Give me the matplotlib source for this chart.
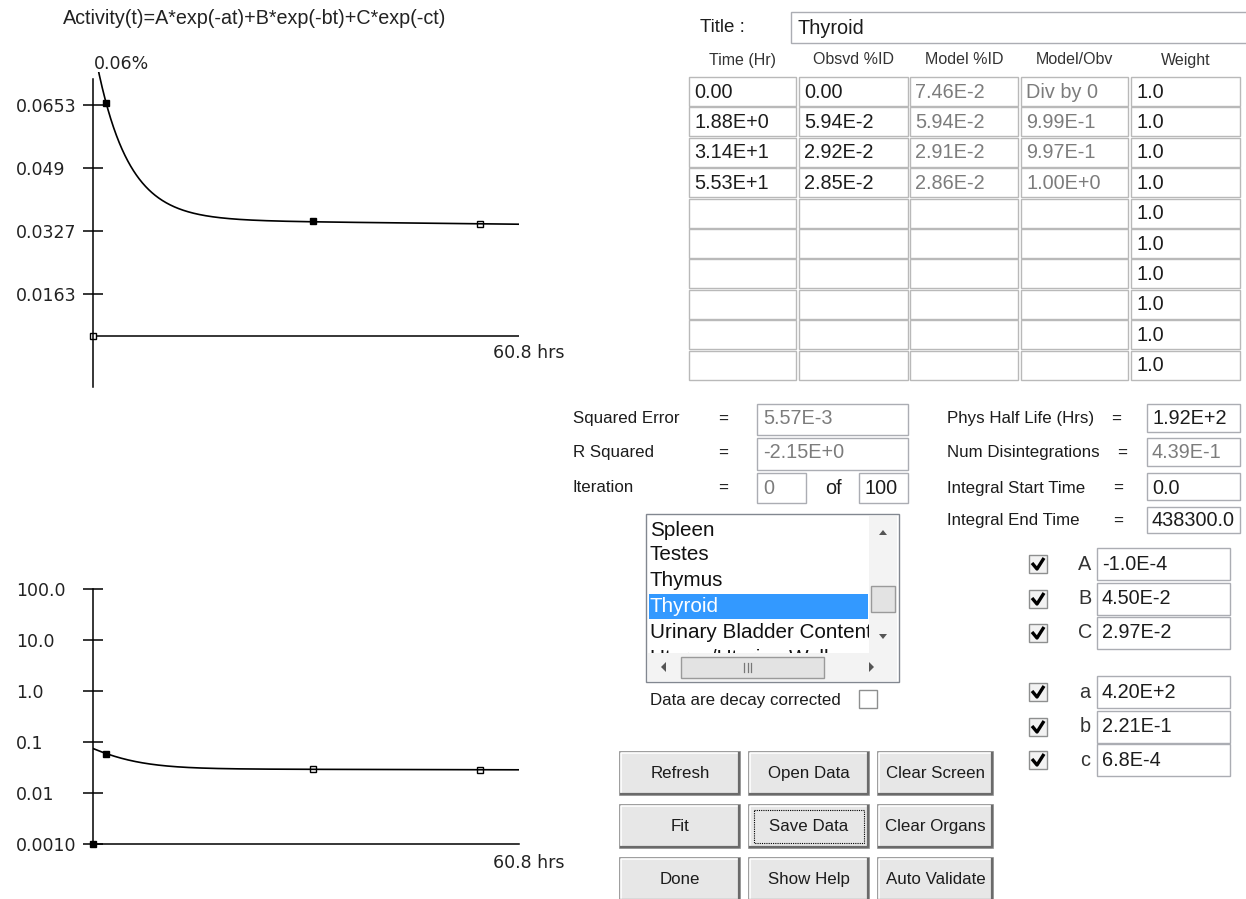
import numpy as np
import matplotlib
matplotlib.use("Agg")
import matplotlib.pyplot as plt
from matplotlib.patches import Rectangle, Polygon

# ---------------------------------------------------------------- data
# Observation table (as typed in the fitting panel)
time_txt = ["0.00", "1.88E+0", "3.14E+1", "5.53E+1"]
obs_txt = ["0.00", "5.94E-2", "2.92E-2", "2.85E-2"]
model_txt = ["7.46E-2", "5.94E-2", "2.91E-2", "2.86E-2"]
ratio_txt = ["Div by 0", "9.99E-1", "9.97E-1", "1.00E+0"]
weight_txt = ["1.0"] * 10

# Tri-exponential fit parameters
amp_names = ["A", "B", "C"]
amp_txt = ["-1.0E-4", "4.50E-2", "2.97E-2"]
rate_names = ["a", "b", "c"]
rate_txt = ["4.20E+2", "2.21E-1", "6.8E-4"]

t_end = 60.8  # hours spanned by the time axis

lin_tick_vals = [0.0589, 0.0428, 0.0268, 0.0107]
lin_tick_txt = ["0.0653", "0.049", "0.0327", "0.0163"]
log_tick_vals = [100, 10, 1, 0.1, 0.01, 0.001]
log_tick_txt = ["100.0", "10.0", "1.0", "0.1", "0.01", "0.0010"]

organs = ["Spleen", "Testes", "Thymus", "Thyroid",
          "Urinary Bladder Contents", "Uterus/Uterine Wall"]
organ_sel = "Thyroid"

fit_stats = [("Squared Error", "5.57E-3"), ("R Squared", "-2.15E+0")]
iter_now, iter_max = "0", "100"
dose_fields = [("Phys Half Life (Hrs)", "1.92E+2", True),
               ("Num Disintegrations", "4.39E-1", False),
               ("Integral Start Time", "0.0", True),
               ("Integral End Time", "438300.0", True)]
buttons = [["Refresh", "Open Data", "Clear Screen"],
           ["Fit", "Save Data", "Clear Organs"],
           ["Done", "Show Help", "Auto Validate"]]

# ---------------------------------------------------------------- setup
W, H = 1246, 899
fig = plt.figure(figsize=(W / 100, H / 100), dpi=100)
fig.patch.set_facecolor("white")

ui = fig.add_axes([0, 0, 1, 1])
ui.set_xlim(0, W)
ui.set_ylim(H, 0)
ui.axis("off")

SANS = ["Liberation Sans", "DejaVu Sans"]
UIF = ["DejaVu Sans"]
INK = "#1c1c1c"
DIM = "#7c7c7c"
LBL = 12.2     # dialog label size
VAL = 14.3     # edit-field text size


def rect(x0, y0, x1, y1, fc="white", ec="#abadb3", lw=1.0, z=2, **kw):
    p = Rectangle((x0, y0), x1 - x0, y1 - y0, facecolor=fc, edgecolor=ec,
                  linewidth=lw, zorder=z, **kw)
    ui.add_patch(p)
    return p


def label(x, y, s, size=LBL, color=INK, ha="left", fam=SANS, z=5, **kw):
    return ui.text(x, y, s, fontsize=size, color=color, ha=ha, va="center",
                   family=fam, zorder=z, **kw)


def px_axes(x0, y0, x1, y1):
    ax = fig.add_axes([x0 / W, 1 - y1 / H, (x1 - x0) / W, (y1 - y0) / H])
    ax.patch.set_alpha(0)
    return ax


amps = [float(s) for s in amp_txt]
rates = [float(s) for s in rate_txt]
times = np.array([float(s) for s in time_txt])
obs = np.array([float(s) for s in obs_txt])


def activity(t):
    return sum(k * np.exp(-r * t) for k, r in zip(amps, rates))


def draw_points(ax, y, fills):
    for tx, ty, f in zip(times, y, fills):
        ax.plot([tx], [ty], "s", ms=3.8, mfc=f, mec="black", mew=1.0,
                clip_on=False, zorder=2)


tc = np.linspace(0, t_end, 1200)
formula = "Activity(t)=" + "+".join(f"{A}*exp(-{a}t)" for A, a in zip(amp_names, rate_names))
label(255, 19, formula, size=14.2, ha="center", color="#222222")

# ---------------------------------------------------------------- linear plot
top = px_axes(93, 72, 519, 387)
top.set_xlim(0, t_end)
top.set_ylim(-0.0130, 0.0673)
for s in ("top", "right", "bottom"):
    top.spines[s].set_visible(False)
top.spines["left"].set_bounds(-0.0130, 0.0655)
top.spines["left"].set_linewidth(1.1)
top.axhline(0, color="black", lw=1.1, zorder=2)
top.plot(tc, activity(tc), color="black", lw=1.2, zorder=3)
draw_points(top, obs, ["white", "black", "black", "white"])
top.set_xticks([])
top.set_yticks(lin_tick_vals, lin_tick_txt)
top.tick_params(axis="y", direction="inout", length=14, width=1.1, pad=48.4,
                labelsize=12.5, labelcolor="#222222")
for t in top.get_yticklabels():
    t.set_ha("left")
    t.set_family(UIF)
label(94, 64, f"{obs.max():.2f}%", size=12.5, color="#222222", fam=UIF)
label(493, 353, f"{t_end} hrs", size=12.5, color="#222222", fam=UIF)

# ---------------------------------------------------------------- log plot
bot = px_axes(93, 589, 519, 844)
bot.set_yscale("log")
bot.set_xlim(0, t_end)
bot.set_ylim(1e-3, 100)
for s in ("top", "right"):
    bot.spines[s].set_visible(False)
bot.spines["left"].set_linewidth(1.1)
bot.spines["bottom"].set_linewidth(1.1)
bot.plot(tc, activity(tc), color="black", lw=1.2, zorder=3)
draw_points(bot, np.maximum(obs, 1e-3), ["black", "black", "white", "white"])
bot.set_xticks([])
bot.set_yticks(log_tick_vals, log_tick_txt)
bot.minorticks_off()
bot.tick_params(axis="y", which="both", direction="inout", length=14, width=1.1,
                pad=48.4, labelsize=12.5, labelcolor="#222222")
for t in bot.get_yticklabels():
    t.set_ha("left")
    t.set_family(UIF)
label(493, 863, f"{t_end} hrs", size=12.5, color="#222222", fam=UIF)

# ---------------------------------------------------------------- data table
label(700, 27, "Title :", size=13.5)
rect(791, 12, 1252, 43)
label(797, 28, organ_sel, size=14.3)

cols = [(689, 796), (799, 908), (910, 1018), (1021, 1128), (1131, 1240)]
headers = ["Time (Hr)", "Obsvd %ID", "Model %ID", "Model/Obv", "Weight"]
col_txt = [time_txt, obs_txt, model_txt, ratio_txt, weight_txt]
col_ink = [INK, INK, DIM, DIM, INK]
for (x0, x1), head in zip(cols, headers):
    label((x0 + x1) / 2, 60, head, size=11.5, ha="center", color="#333333")
for r in range(10):
    y0 = 77 + r * 30.4
    for c, (x0, x1) in enumerate(cols):
        rect(x0, y0, x1, y0 + 29, ec="#b9b9b9")
        if r < len(col_txt[c]):
            label(x0 + 5, y0 + 15, col_txt[c][r], size=VAL, color=col_ink[c])

# ---------------------------------------------------------------- fit statistics
row_y = [419, 453, 488]
row_box = [(404, 435), (438, 470), (473, 503)]
for (name, val), y, (b0, b1) in zip(fit_stats, row_y, row_box):
    label(573, y, name)
    label(723, y, "=", ha="center")
    rect(757, b0, 908, b1)
    label(763, y, val, size=VAL, color=DIM)
label(573, row_y[2], "Iteration")
label(723, row_y[2], "=", ha="center")
rect(757, row_box[2][0], 806, row_box[2][1])
label(763, row_y[2], iter_now, size=VAL, color=DIM)
label(833, row_y[2], "of", size=VAL, ha="center")
rect(859, row_box[2][0], 908, row_box[2][1])
label(865, row_y[2], iter_max, size=VAL)

dose_y = [419, 453, 488, 521]
dose_box = [(404, 432), (438, 466), (473, 500), (507, 533)]
eq_x = [1116, 1122, 1118, 1118]
for (name, val, live), y, (b0, b1), ex in zip(dose_fields, dose_y, dose_box, eq_x):
    label(947, y, name)
    label(ex, y, "=", ha="center")
    box = rect(1147, b0, 1240, b1)
    t = label(1152, y, val, size=VAL, color=INK if live else DIM)
    t.set_clip_path(box)

# ---------------------------------------------------------------- organ list
rect(646, 514, 899, 682, ec="#828790")
clip = Rectangle((648, 516), 220, 136, transform=ui.transData)
item_y = [531, 555, 581, 606, 632, 658]
for name, y in zip(organs, item_y):
    sel = name == organ_sel
    if sel:
        rect(649, y - 12.5, 868, y + 12.5, fc="#3399ff", ec="none", z=3)
    t = label(650, y, name, size=14.9, color="white" if sel else "#111111")
    t.set_clip_path(clip)
# vertical scroll bar
rect(869, 516, 897, 653, fc="#f3f3f3", ec="none", z=6)
ui.add_patch(Polygon([(879, 535), (887, 535), (883, 530)], fc="#555555", zorder=7))
ui.add_patch(Polygon([(879, 634), (887, 634), (883, 639)], fc="#555555", zorder=7))
rect(871, 586, 895, 612, fc="#e3e3e3", ec="#9a9a9a", z=7)
# horizontal scroll bar
rect(648, 653, 897, 681, fc="#f3f3f3", ec="none", z=6)
ui.add_patch(Polygon([(666, 662), (666, 672), (661, 667)], fc="#555555", zorder=7))
ui.add_patch(Polygon([(869, 662), (869, 672), (874, 667)], fc="#555555", zorder=7))
rect(681, 657, 824, 678, fc="#e3e3e3", ec="#9a9a9a", z=7)
for gx in (744, 747.5, 751):
    ui.plot([gx, gx], [663, 672], color="#777777", lw=0.9, zorder=8)

label(650, 700, "Data are decay corrected")
rect(859, 690, 877, 708, ec="#8e8f8f")

# ---------------------------------------------------------------- parameters
par_names = amp_names + rate_names
par_txt = amp_txt + rate_txt
par_y = [564, 599, 633, 692, 727, 760]
for name, val, y in zip(par_names, par_txt, par_y):
    rect(1029, y - 9, 1047, y + 9, fc="#f2f2f2", ec="#8e8f8f")
    ui.plot([1032, 1037, 1044], [y - 1, y + 5, y - 6], color="black",
            lw=2.4, solid_capstyle="butt", zorder=5)
    label(1085, y, name, size=VAL, ha="center", color="#333333")
    rect(1097, y - 16, 1230, y + 16)
    label(1102, y, val, size=VAL)

# ---------------------------------------------------------------- buttons
btn_cols = [(620, 740), (749, 869), (878, 993)]
btn_rows = [752, 805, 858]
for row, y0 in zip(buttons, btn_rows):
    y1 = y0 + 43
    for name, (x0, x1) in zip(row, btn_cols):
        rect(x0, y0, x1, y1, fc="#e7e7e7", ec="#8c8c8c", lw=1.2)
        ui.plot([x0 + 1, x0 + 1, x1 - 2], [y1 - 2, y0 + 1, y0 + 1],
                color="white", lw=1.2, zorder=3)
        ui.plot([x0 + 1, x1 - 1, x1 - 1], [y1 - 1, y1 - 1, y0 + 1],
                color="#6a6a6a", lw=1.6, zorder=3)
        label((x0 + x1) / 2, (y0 + y1) / 2, name, ha="center")
        if name == "Save Data":
            rect(x0 + 5, y0 + 5, x1 - 5, y1 - 5, fc="none", ec="black",
                 lw=0.8, ls=(0, (1, 1)), z=4)

fig.savefig("out.png", dpi=100, facecolor="white")
